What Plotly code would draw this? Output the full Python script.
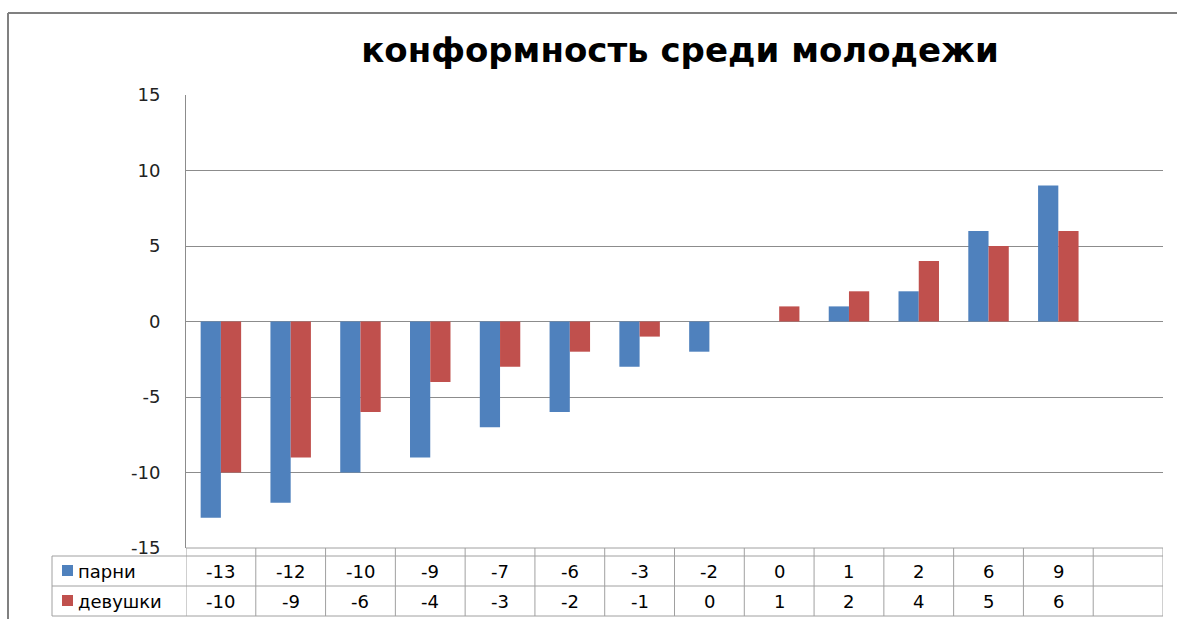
import plotly.graph_objects as go

title = "конформность среди молодежи"
series_names = ["парни", "девушки"]
parni = [-13, -12, -10, -9, -7, -6, -3, -2, 0, 1, 2, 6, 9]
devushki = [-10, -9, -6, -4, -3, -2, -1, 0, 1, 2, 4, 5, 6]
n_cats = 14  # last category is empty
y_ticks = [-15, -10, -5, 0, 5, 10, 15]
colors = ["#4F81BD", "#C0504D"]

W, H = 1177, 619
def px(x): return x / W
def py(y): return 1 - y / H

x_cats = list(range(len(parni)))
FONT = "DejaVu Sans"
fig = go.Figure()
fig.add_trace(go.Bar(x=x_cats, y=parni, name=series_names[0], marker_color=colors[0],
                     marker_line_width=0))
fig.add_trace(go.Bar(x=x_cats, y=devushki, name=series_names[1], marker_color=colors[1],
                     marker_line_width=0))

plot_l, plot_r, plot_t, plot_b = 186, 1163, 95, 548
fig.update_layout(
    width=W, height=H, margin=dict(l=0, r=0, t=0, b=0, autoexpand=False),
    paper_bgcolor="white", plot_bgcolor="white",
    showlegend=False, barmode="group", bargap=0.42, bargroupgap=0,
    font=dict(family=FONT, color="black"),
    xaxis=dict(domain=[px(plot_l), px(plot_r)], range=[-0.5, n_cats - 0.5], automargin=False,
               showticklabels=False, showgrid=False, zeroline=False, fixedrange=True),
    yaxis=dict(domain=[py(plot_b), py(plot_t)], range=[-15, 15], tickvals=y_ticks, automargin=False,
               ticktext=[str(v) for v in y_ticks], showgrid=True, gridcolor="#8C8C8C",
               gridwidth=1, zeroline=False, showline=True, linecolor="#8C8C8C", fixedrange=True,
               ticks="", ticklabelstandoff=21, tickfont=dict(size=18, family=FONT, color="#222")),
    title=dict(text="<b>" + title + "</b>", x=px(680), xanchor="center", y=py(50),
               yanchor="middle", automargin=False, font=dict(size=34, family=FONT, color="black")),
)

shapes = []
line_c = "#A0A0A0"
# outer chart border
shapes.append(dict(type="line", xref="paper", yref="paper", x0=px(8), x1=1.02, y0=py(13), y1=py(13),
                   line=dict(color="#808080", width=2)))
shapes.append(dict(type="line", xref="paper", yref="paper", x0=px(8), x1=px(8), y0=py(13), y1=-0.02,
                   line=dict(color="#808080", width=2)))
# table
tab_top, row1, tab_bot = 556, 586, 616
shapes.append(dict(type="line", xref="paper", yref="paper", x0=px(plot_l), x1=px(plot_r),
                   y0=py(plot_b), y1=py(plot_b), line=dict(color=line_c, width=1)))
for yy in [tab_top, row1, tab_bot]:
    shapes.append(dict(type="line", xref="paper", yref="paper", x0=px(52), x1=px(plot_r),
                       y0=py(yy), y1=py(yy), line=dict(color=line_c, width=1)))
shapes.append(dict(type="line", xref="paper", yref="paper", x0=px(52), x1=px(52),
                   y0=py(tab_top), y1=py(tab_bot), line=dict(color=line_c, width=1)))
for k in range(n_cats + 1):
    shapes.append(dict(type="line", xref="x", yref="paper", x0=k - 0.5, x1=k - 0.5,
                       y0=py(plot_b), y1=py(tab_bot), line=dict(color=line_c, width=1)))
# legend keys
for i, yy in enumerate([571, 601]):
    shapes.append(dict(type="rect", xref="paper", yref="paper", x0=px(62), x1=px(73),
                       y0=py(yy + 5), y1=py(yy - 6), fillcolor=colors[i], line=dict(width=0)))
fig.update_layout(shapes=shapes)

ann = []
for i, (nm, yy) in enumerate(zip(series_names, [571, 601])):
    ann.append(dict(xref="paper", yref="paper", x=px(76), y=py(yy), text=nm, showarrow=False,
                    xanchor="left", yanchor="middle", font=dict(size=18, family=FONT)))
for vals, yy in [(parni, 571), (devushki, 601)]:
    for k, v in enumerate(vals):
        ann.append(dict(xref="x", yref="paper", x=k, y=py(yy), text=str(v), showarrow=False,
                        xanchor="center", yanchor="middle", font=dict(size=18, family=FONT)))
fig.update_layout(annotations=ann)

fig.write_html("out.html", config={"displayModeBar": False},
               post_script="document.body.style.margin='0';document.body.style.overflow='hidden';")
